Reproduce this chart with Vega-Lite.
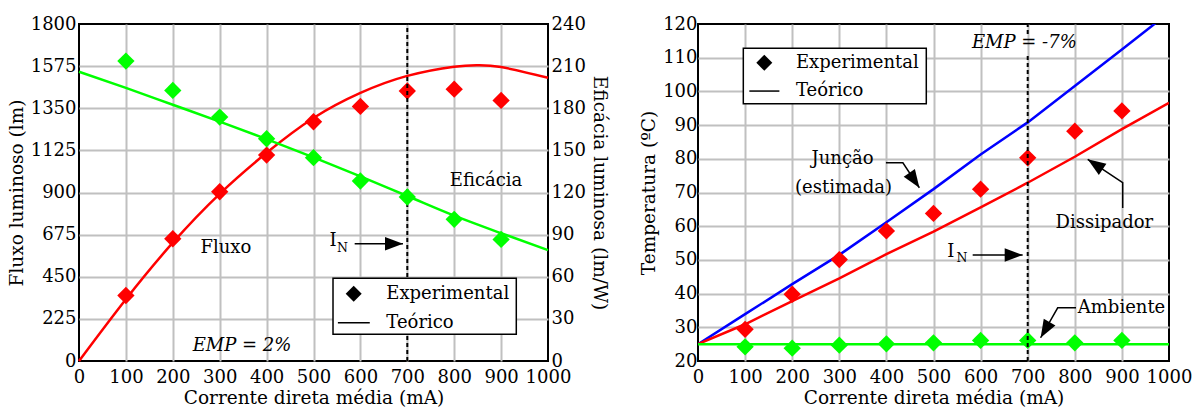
{
  "$schema": "https://vega.github.io/schema/vega-lite/v6.json",
  "padding": {"left": 6, "top": 14, "right": 2, "bottom": 0},
  "background": "white",
  "spacing": 28,
  "config": {
    "font": "DejaVu Serif",
    "view": {"stroke": "black", "strokeWidth": 2},
    "axis": {
      "labelFont": "DejaVu Serif", "labelFontSize": 18, "labelColor": "black",
      "titleFont": "DejaVu Serif", "titleFontSize": 18.5, "titleFontWeight": "normal", "titleColor": "black",
      "ticks": false, "domain": false, "gridColor": "#c0c0c0", "gridWidth": 2, "format": "d",
      "labelFlush": false, "labelOverlap": false, "labelPadding": 3, "titlePadding": 4
    },
    "axisX": {"labelPadding": 7, "titlePadding": 2},
    "text": {"font": "DejaVu Serif", "fontSize": 18, "color": "black"}
  },
  "datasets": {
    "fluxExp": [
      {"I": 100, "flux": 350}, {"I": 200, "flux": 653}, {"I": 300, "flux": 904},
      {"I": 400, "flux": 1100}, {"I": 500, "flux": 1278}, {"I": 600, "flux": 1360},
      {"I": 700, "flux": 1442}, {"I": 800, "flux": 1452}, {"I": 900, "flux": 1392}
    ],
    "fluxTeo": [
      {"I": 0, "flux": 0}, {"I": 100, "flux": 330}, {"I": 200, "flux": 632}, {"I": 300, "flux": 893},
      {"I": 400, "flux": 1112}, {"I": 500, "flux": 1298}, {"I": 600, "flux": 1432}, {"I": 700, "flux": 1523},
      {"I": 800, "flux": 1572}, {"I": 850, "flux": 1580}, {"I": 900, "flux": 1570}, {"I": 1000, "flux": 1513}
    ],
    "eficExp": [
      {"I": 100, "efic": 213.6}, {"I": 200, "efic": 192.7}, {"I": 300, "efic": 173.7},
      {"I": 400, "efic": 158.3}, {"I": 500, "efic": 144.8}, {"I": 600, "efic": 128.2},
      {"I": 700, "efic": 116.8}, {"I": 800, "efic": 100.9}, {"I": 900, "efic": 86.6}
    ],
    "eficTeo": [
      {"I": 0, "efic": 206}, {"I": 100, "efic": 194.5}, {"I": 200, "efic": 182.5}, {"I": 300, "efic": 170.5},
      {"I": 400, "efic": 158}, {"I": 500, "efic": 145}, {"I": 600, "efic": 131.5}, {"I": 700, "efic": 117.5},
      {"I": 800, "efic": 103.5}, {"I": 900, "efic": 91}, {"I": 1000, "efic": 79}
    ],
    "tempTeo": [
      {"serie": "Junção", "I": 0, "T": 25}, {"serie": "Junção", "I": 100, "T": 33.9}, {"serie": "Junção", "I": 200, "T": 42.8},
      {"serie": "Junção", "I": 300, "T": 51.5}, {"serie": "Junção", "I": 400, "T": 61.2}, {"serie": "Junção", "I": 500, "T": 71},
      {"serie": "Junção", "I": 600, "T": 81.3}, {"serie": "Junção", "I": 700, "T": 90.8}, {"serie": "Junção", "I": 800, "T": 101.6},
      {"serie": "Junção", "I": 900, "T": 112.4}, {"serie": "Junção", "I": 1000, "T": 123.4},
      {"serie": "Dissipador", "I": 0, "T": 25}, {"serie": "Dissipador", "I": 100, "T": 30.9}, {"serie": "Dissipador", "I": 200, "T": 37.8},
      {"serie": "Dissipador", "I": 300, "T": 44.5}, {"serie": "Dissipador", "I": 400, "T": 51.7}, {"serie": "Dissipador", "I": 500, "T": 58.4},
      {"serie": "Dissipador", "I": 600, "T": 65.6}, {"serie": "Dissipador", "I": 700, "T": 72.9}, {"serie": "Dissipador", "I": 800, "T": 80.6},
      {"serie": "Dissipador", "I": 900, "T": 88.8}, {"serie": "Dissipador", "I": 1000, "T": 96.6},
      {"serie": "Ambiente", "I": 0, "T": 25}, {"serie": "Ambiente", "I": 1000, "T": 25}
    ],
    "tempExp": [
      {"serie": "Dissipador", "I": 100, "T": 29.4}, {"serie": "Dissipador", "I": 200, "T": 39.8}, {"serie": "Dissipador", "I": 300, "T": 50.1},
      {"serie": "Dissipador", "I": 400, "T": 58.6}, {"serie": "Dissipador", "I": 500, "T": 63.8}, {"serie": "Dissipador", "I": 600, "T": 71},
      {"serie": "Dissipador", "I": 700, "T": 80.3}, {"serie": "Dissipador", "I": 800, "T": 88.2}, {"serie": "Dissipador", "I": 900, "T": 94.2},
      {"serie": "Ambiente", "I": 100, "T": 24.2}, {"serie": "Ambiente", "I": 200, "T": 23.8}, {"serie": "Ambiente", "I": 300, "T": 24.7},
      {"serie": "Ambiente", "I": 400, "T": 25.1}, {"serie": "Ambiente", "I": 500, "T": 25.4}, {"serie": "Ambiente", "I": 600, "T": 26.1},
      {"serie": "Ambiente", "I": 700, "T": 26.1}, {"serie": "Ambiente", "I": 800, "T": 25.4}, {"serie": "Ambiente", "I": 900, "T": 26.1}
    ],
    "legBoxL": [{"I": 541.6, "I2": 932.4, "flux": 142.6, "flux2": 441.6}],
    "legSymL": [{"I": 585.7, "flux": 359.4}],
    "legLineL": [{"I": 552, "I2": 620, "flux": 204.5}],
    "legTextL": [{"I": 655.2, "flux": 359.4, "txt": "Experimental"}, {"I": 655.2, "flux": 204.5, "txt": "Teórico"}],
    "annL": [{"I": 868, "flux": 961, "txt": "Eficácia"}, {"I": 313, "flux": 605, "txt": "Fluxo"}, {"I": 541.6, "flux": 641, "txt": "I"}],
    "subL": [{"I": 561.8, "flux": 603, "txt": "N"}],
    "empL": [{"I": 347.6, "flux": 80, "txt": "EMP = 2%"}],
    "arrowL": [{"grp": "in", "ord": 1, "I": 587.8, "flux": 626}, {"grp": "in", "ord": 2, "I": 690.8, "flux": 626}],
    "headL": [{"I": 690.8, "flux": 626}],
    "legBoxR": [{"I": 96.2, "I2": 484.7, "T": 96.35, "T2": 112.8}],
    "legSymR": [{"I": 140.8, "T": 108.5}],
    "legLineR": [{"I": 109, "I2": 172.8, "T": 100.1}],
    "legTextR": [{"I": 208, "T": 108.5, "txt": "Experimental"}, {"I": 208, "T": 100.1, "txt": "Teórico"}],
    "annR": [
      {"I": 307, "T": 79.85, "txt": "Junção"}, {"I": 309, "T": 71.4, "txt": "(estimada)"},
      {"I": 862.7, "T": 61, "txt": "Dissipador"}, {"I": 899.2, "T": 35.8, "txt": "Ambiente"},
      {"I": 537, "T": 52.4, "txt": "I"}
    ],
    "subR": [{"I": 560.5, "T": 50.5, "txt": "N"}],
    "empR": [{"I": 692.8, "T": 114.45, "txt": "EMP = -7%"}],
    "arrowR": [
      {"grp": "jun", "ord": 1, "I": 399, "T": 78.8}, {"grp": "jun", "ord": 2, "I": 435, "T": 78.8}, {"grp": "jun", "ord": 3, "I": 470, "T": 71.4},
      {"grp": "dis", "ord": 1, "I": 901.7, "T": 65.4}, {"grp": "dis", "ord": 2, "I": 901.7, "T": 72.9}, {"grp": "dis", "ord": 3, "I": 827.4, "T": 79.85},
      {"grp": "amb", "ord": 1, "I": 802.5, "T": 35.8}, {"grp": "amb", "ord": 2, "I": 763.7, "T": 35.8}, {"grp": "amb", "ord": 3, "I": 727.4, "T": 26.9},
      {"grp": "in", "ord": 1, "I": 583.2, "T": 51.45}, {"grp": "in", "ord": 2, "I": 689.3, "T": 51.45}
    ],
    "headR": [
      {"k": "jun", "I": 470, "T": 71.4}, {"k": "dis", "I": 827.4, "T": 79.85},
      {"k": "amb", "I": 727.4, "T": 26.9}, {"k": "in", "I": 689.3, "T": 51.45}
    ],
    "dashR": [{"I": 700, "T": 20, "T2": 111.4}, {"I": 700, "T": 117, "T2": 120}]
  },
  "hconcat": [
    {
      "width": 469,
      "height": 337,
      "encoding": {
        "x": {"field": "I", "type": "quantitative", "scale": {"domain": [0, 1000], "nice": false},
          "axis": {"title": "Corrente direta média (mA)", "values": [0, 100, 200, 300, 400, 500, 600, 700, 800, 900, 1000],
            "gridOpacity": {"condition": {"test": "datum.value == 0 || datum.value == 1000", "value": 0}, "value": 1}}}
      },
      "layer": [
        {
          "encoding": {
            "y": {"field": "flux", "type": "quantitative", "scale": {"domain": [0, 1800], "nice": false},
              "axis": {"title": "Fluxo luminoso (lm)", "orient": "left", "values": [0, 225, 450, 675, 900, 1125, 1350, 1575, 1800],
                "gridOpacity": {"condition": {"test": "datum.value == 0 || datum.value == 1800", "value": 0}, "value": 1}}}
          },
          "layer": [
            {"data": {"name": "fluxTeo"}, "mark": {"type": "line", "color": "#ff0000", "strokeWidth": 2.5, "interpolate": "natural"}},
            {"data": {"name": "fluxExp"}, "mark": {"type": "point", "shape": "diamond", "filled": true, "size": 300, "color": "#ff0000", "opacity": 1}},
            {"data": {"values": [{"I": 700, "flux": 0, "flux2": 1800}]}, "mark": {"type": "rule", "color": "black", "strokeWidth": 2, "strokeDash": [4, 3]},
              "encoding": {"y2": {"field": "flux2"}}},
            {"data": {"name": "legBoxL"}, "mark": {"type": "rect", "fill": "white", "stroke": "black", "strokeWidth": 1.5},
              "encoding": {"x2": {"field": "I2"}, "y2": {"field": "flux2"}}},
            {"data": {"name": "legSymL"}, "mark": {"type": "point", "shape": "diamond", "filled": true, "size": 256, "color": "black", "opacity": 1}},
            {"data": {"name": "legLineL"}, "mark": {"type": "rule", "color": "black", "strokeWidth": 1.5}, "encoding": {"x2": {"field": "I2"}}},
            {"data": {"name": "legTextL"}, "mark": {"type": "text", "align": "left", "baseline": "middle", "fontSize": 18}, "encoding": {"text": {"field": "txt"}}},
            {"data": {"name": "annL"}, "mark": {"type": "text", "align": "center", "baseline": "middle", "fontSize": 18}, "encoding": {"text": {"field": "txt"}}},
            {"data": {"name": "subL"}, "mark": {"type": "text", "align": "center", "baseline": "middle", "fontSize": 12.5}, "encoding": {"text": {"field": "txt"}}},
            {"data": {"name": "empL"}, "mark": {"type": "text", "align": "center", "baseline": "middle", "fontSize": 18, "fontStyle": "italic"}, "encoding": {"text": {"field": "txt"}}},
            {"data": {"name": "arrowL"}, "mark": {"type": "line", "color": "black", "strokeWidth": 1.5}, "encoding": {"detail": {"field": "grp"}, "order": {"field": "ord"}}},
            {"data": {"name": "headL"}, "mark": {"type": "point", "shape": "M0,0L-2,-0.75L-2,0.75Z", "filled": true, "size": 324, "color": "black", "opacity": 1, "angle": 0}}
          ]
        },
        {
          "encoding": {
            "y": {"field": "efic", "type": "quantitative", "scale": {"domain": [0, 240], "nice": false},
              "axis": {"title": "Eficácia luminosa (lm/W)", "orient": "right", "values": [0, 30, 60, 90, 120, 150, 180, 210, 240], "grid": false}}
          },
          "layer": [
            {"data": {"name": "eficTeo"}, "mark": {"type": "line", "color": "#00ff00", "strokeWidth": 2.5, "interpolate": "monotone"}},
            {"data": {"name": "eficExp"}, "mark": {"type": "point", "shape": "diamond", "filled": true, "size": 300, "color": "#00ff00", "opacity": 1}}
          ]
        }
      ],
      "resolve": {"scale": {"y": "independent"}}
    },
    {
      "width": 471,
      "height": 337,
      "encoding": {
        "x": {"field": "I", "type": "quantitative", "scale": {"domain": [0, 1000], "nice": false},
          "axis": {"title": "Corrente direta média (mA)", "values": [0, 100, 200, 300, 400, 500, 600, 700, 800, 900, 1000],
            "gridOpacity": {"condition": {"test": "datum.value == 0 || datum.value == 1000", "value": 0}, "value": 1}}},
        "y": {"field": "T", "type": "quantitative", "scale": {"domain": [20, 120], "nice": false},
          "axis": {"title": "Temperatura (ºC)", "values": [20, 30, 40, 50, 60, 70, 80, 90, 100, 110, 120], "labelPadding": 1,
            "gridOpacity": {"condition": {"test": "datum.value == 20 || datum.value == 120", "value": 0}, "value": 1}}}
      },
      "layer": [
        {"data": {"name": "tempTeo"}, "mark": {"type": "line", "strokeWidth": 2.5, "clip": true},
          "encoding": {"color": {"field": "serie", "type": "nominal", "scale": {"domain": ["Junção", "Dissipador", "Ambiente"], "range": ["#0000ff", "#ff0000", "#00ff00"]}, "legend": null}}},
        {"data": {"name": "tempExp"}, "mark": {"type": "point", "shape": "diamond", "filled": true, "size": 300, "opacity": 1},
          "encoding": {"color": {"field": "serie", "type": "nominal", "scale": {"domain": ["Junção", "Dissipador", "Ambiente"], "range": ["#0000ff", "#ff0000", "#00ff00"]}, "legend": null}}},
        {"data": {"name": "dashR"}, "mark": {"type": "rule", "color": "black", "strokeWidth": 2, "strokeDash": [4, 3]}, "encoding": {"y2": {"field": "T2"}}},
        {"data": {"name": "legBoxR"}, "mark": {"type": "rect", "fill": "white", "stroke": "black", "strokeWidth": 1.5},
          "encoding": {"x2": {"field": "I2"}, "y2": {"field": "T2"}}},
        {"data": {"name": "legSymR"}, "mark": {"type": "point", "shape": "diamond", "filled": true, "size": 256, "color": "black", "opacity": 1}},
        {"data": {"name": "legLineR"}, "mark": {"type": "rule", "color": "black", "strokeWidth": 1.5}, "encoding": {"x2": {"field": "I2"}}},
        {"data": {"name": "legTextR"}, "mark": {"type": "text", "align": "left", "baseline": "middle", "fontSize": 18}, "encoding": {"text": {"field": "txt"}}},
        {"data": {"name": "annR"}, "mark": {"type": "text", "align": "center", "baseline": "middle", "fontSize": 18}, "encoding": {"text": {"field": "txt"}}},
        {"data": {"name": "subR"}, "mark": {"type": "text", "align": "center", "baseline": "middle", "fontSize": 12.5}, "encoding": {"text": {"field": "txt"}}},
        {"data": {"name": "empR"}, "mark": {"type": "text", "align": "center", "baseline": "middle", "fontSize": 18, "fontStyle": "italic"}, "encoding": {"text": {"field": "txt"}}},
        {"data": {"name": "arrowR"}, "mark": {"type": "line", "color": "black", "strokeWidth": 1.5}, "encoding": {"detail": {"field": "grp"}, "order": {"field": "ord"}}},
        {"data": {"name": "headR"}, "transform": [{"filter": "datum.k == 'jun'"}], "mark": {"type": "point", "shape": "M0,0L-2,-0.75L-2,0.75Z", "filled": true, "size": 324, "color": "black", "opacity": 1, "angle": 56}},
        {"data": {"name": "headR"}, "transform": [{"filter": "datum.k == 'dis'"}], "mark": {"type": "point", "shape": "M0,0L-2,-0.75L-2,0.75Z", "filled": true, "size": 324, "color": "black", "opacity": 1, "angle": 214}},
        {"data": {"name": "headR"}, "transform": [{"filter": "datum.k == 'amb'"}], "mark": {"type": "point", "shape": "M0,0L-2,-0.75L-2,0.75Z", "filled": true, "size": 324, "color": "black", "opacity": 1, "angle": 120}},
        {"data": {"name": "headR"}, "transform": [{"filter": "datum.k == 'in'"}], "mark": {"type": "point", "shape": "M0,0L-2,-0.75L-2,0.75Z", "filled": true, "size": 324, "color": "black", "opacity": 1, "angle": 0}}
      ]
    }
  ]
}
